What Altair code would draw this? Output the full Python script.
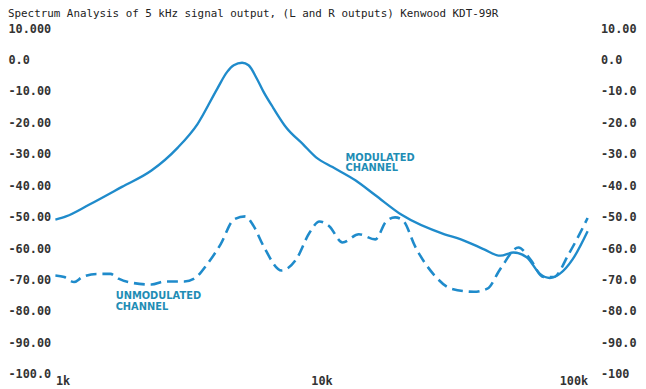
import altair as alt
import pandas as pd

# ---- data ----
title_text = "Spectrum Analysis of 5 kHz signal output, (L and R outputs) Kenwood KDT-99R"

mod_khz = [1.0, 1.096, 1.337, 1.778, 2.296, 2.884, 3.42, 4.06, 4.42, 4.68, 5.03, 5.32, 5.71, 6.05,
           6.59, 7.38, 8.51, 9.54, 11.0, 13.4, 15.9, 20.0, 29.0, 33.4, 40.6, 47.0, 52.6, 59.0,
           66.2, 72.1, 78.5, 87.9, 100.0]
mod_db = [-50.9, -49.9, -46.2, -40.5, -35.3, -28.0, -20.5, -9.2, -3.9, -1.8, -1.0, -1.8, -6.0, -10.2,
          -15.4, -21.7, -26.9, -31.1, -34.2, -38.4, -43.1, -49.4, -55.6, -57.2, -60.3, -62.4, -61.4, -62.9,
          -68.2, -69.5, -68.2, -63.5, -54.6]

unmod_khz = [1.0, 1.08, 1.176, 1.262, 1.436, 1.61, 1.727, 1.883, 2.296, 2.575, 3.055, 3.327, 3.726,
             4.175, 4.685, 5.17, 5.56, 6.05, 7.08, 8.04, 9.01, 9.82, 10.69, 11.99, 13.81, 15.93, 17.5,
             18.9, 20.3, 22.43, 26.6, 30.7, 37.4, 42.0, 47.0, 55.0, 60.8, 68.2, 74.3, 85.5, 100.0]
unmod_db = [-68.7, -69.2, -70.8, -69.2, -68.2, -68.2, -69.7, -70.8, -71.6, -70.6, -70.6, -69.7, -65.0,
            -58.8, -50.9, -49.9, -53.0, -59.3, -67.1, -63.5, -55.1, -51.5, -53.0, -58.2, -55.6, -57.2, -51.5,
            -50.2, -51.3, -59.3, -68.7, -72.9, -73.9, -72.9, -66.6, -59.8, -63.5, -69.2, -69.2, -61.4, -50.4]

y_ticks = [10, 0, -10, -20, -30, -40, -50, -60, -70, -80, -90, -100]
left_labels = ["10.000", "0.0", "-10.00", "-20.00", "-30.00", "-40.00", "-50.00", "-60.00",
               "-70.00", "-80.00", "-90.00", "-100.0"]
right_labels = ["10.00", "0.0", "-10.0", "-20.0", "-30.0", "-40.0", "-50.0", "-60.0",
                "-70.0", "-80.0", "-90.0", "-100"]
x_ticks = [1000, 10000, 100000]
x_labels = ["1k", "10k", "100k"]

ann_text = ["MODULATED\nCHANNEL", "UNMODULATED\nCHANNEL"]
ann_khz = [12.3, 1.684]
ann_db = [-29.6, -73.8]

# ---- tables ----
mod_df = pd.DataFrame({"f": [v * 1000 for v in mod_khz], "db": mod_db})
unmod_df = pd.DataFrame({"f": [v * 1000 for v in unmod_khz], "db": unmod_db})
ann_df = pd.DataFrame({"f": [v * 1000 for v in ann_khz], "db": ann_db, "t": ann_text})

LINE = "#1f8bcb"
TEXT_BLUE = "#1f8db5"
MONO = "DejaVu Sans Mono"


def arr(lst):
    return "[" + ",".join("'" + s + "'" for s in lst) + "]"


x_scale = alt.Scale(type="log", domain=[1000, 100000], nice=False)
x_enc = alt.X(
    "f:Q",
    scale=x_scale,
    axis=alt.Axis(values=x_ticks, labelExpr=arr(x_labels) + "[round(log(datum.value)/log(10)) - 3]",
                  labelFlush=True, grid=False, domain=False, ticks=False, tickSize=0,
                  labelPadding=2, labelBaseline="top", labelFont=MONO, labelFontSize=12,
                  labelFontWeight="bold", labelColor="#333", title=None),
)

y_scale = alt.Scale(domain=[-100, 10], nice=False, zero=False)

y_left = alt.Y("db:Q", scale=y_scale,
               axis=alt.Axis(orient="left", values=y_ticks,
                             labelExpr=arr(left_labels) + "[(10 - datum.value) / 10]",
                             labelAlign="left", labelPadding=48, ticks=False, tickSize=0,
                             domain=False, grid=False, labelFont=MONO, labelFontSize=12,
                             labelFontWeight="bold", labelColor="#333", title=None))

y_right = alt.Y("db:Q", scale=y_scale,
                axis=alt.Axis(orient="right", values=y_ticks,
                              labelExpr=arr(right_labels) + "[(10 - datum.value) / 10]",
                              labelAlign="left", labelPadding=13, ticks=False, tickSize=0,
                              domain=False, grid=False, labelFont=MONO, labelFontSize=12,
                              labelFontWeight="bold", labelColor="#333", title=None))

mod_line = alt.Chart(mod_df).mark_line(color=LINE, strokeWidth=2.4, interpolate="monotone").encode(
    x=x_enc, y=y_left)

unmod_line = alt.Chart(unmod_df).mark_line(color=LINE, strokeWidth=2.6, strokeDash=[11, 6],
                                           interpolate="monotone").encode(x=x_enc, y=y_right)

ann = alt.Chart(ann_df).mark_text(align="left", baseline="top", lineBreak="\n", lineHeight=11,
                                  font="DejaVu Sans", fontSize=10, fontWeight="bold",
                                  color=TEXT_BLUE).encode(
    x=x_enc,
    y=alt.Y("db:Q", scale=y_scale, axis=None),
    text="t:N")

chart = alt.layer(mod_line, unmod_line, ann).resolve_axis(y="independent").properties(
    width=539, height=350,
    autosize="none",
    background="white",
    padding={"left": 48, "top": 18, "right": 51, "bottom": 20},
    title=alt.TitleParams(text=title_text, anchor="start", frame="group", dx=-48, offset=3,
                          font=MONO, fontSize=11, fontWeight="normal",
                          color="#222"),
).configure_view(strokeWidth=0)

chart.save("out.html", embed_options={"renderer": "svg", "actions": False})
